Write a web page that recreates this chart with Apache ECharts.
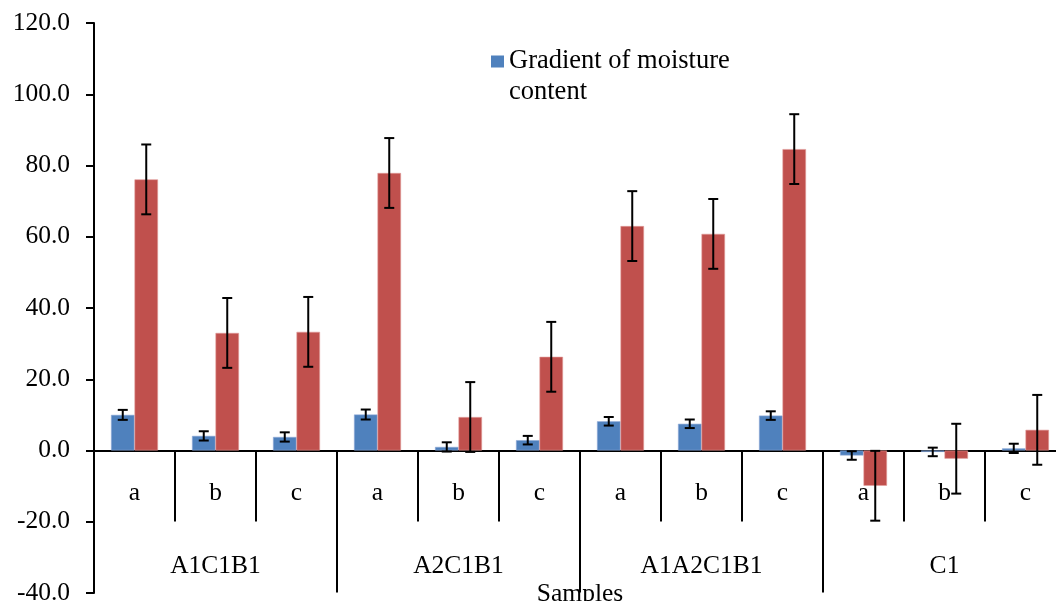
<!DOCTYPE html>
<html>
<head>
<meta charset="utf-8">
<script src="https://cdn.jsdelivr.net/npm/echarts@6/dist/echarts.min.js"></script>
<style>html,body{margin:0;padding:0;background:#fff;}#c{width:1056px;height:601px;}</style>
</head>
<body>
<div id="c"></div>
<script>
var categories = ['a','b','c','a','b','c','a','b','c','a','b','c'];
var groups = ['A1C1B1','A2C1B1','A1A2C1B1','C1'];
var yTicks = [-40,-20,0,20,40,60,80,100,120];
var blueMeans = [10.0, 4.1, 3.8, 10.1, 1.0, 2.9, 8.2, 7.5, 9.8, -1.4, -0.4, 0.6];
var blueErr   = [1.4, 1.3, 1.3, 1.4, 1.3, 1.2, 1.2, 1.2, 1.2, 1.2, 1.2, 1.3];
var redMeans  = [76.1, 33.0, 33.3, 77.9, 9.4, 26.3, 63.0, 60.8, 84.6, -9.9, -2.3, 5.8];
var redErr    = [9.8, 9.8, 9.8, 9.8, 9.8, 9.8, 9.8, 9.8, 9.8, 9.8, 9.8, 9.8];

var FONT = "'Liberation Serif','Times New Roman',serif";
var GAP = 0.42;
var GRID_TOP = 23, GRID_H = 570;
var zeroOffset = -GRID_H * (0 - yTicks[0]) / (yTicks[yTicks.length-1] - yTicks[0]);

function errData(means, errs){
  return means.map(function(m,i){ return [i, m - errs[i], m + errs[i]]; });
}
function makeRender(side){
  return function(params, api){
    var x = api.value(0), lo = api.value(1), hi = api.value(2);
    var band = api.size([1,0])[0];
    var off = side * band * (1 - GAP) / 4;
    var pHi = api.coord([x, hi]), pLo = api.coord([x, lo]);
    var cx = pHi[0] + off, cap = 5;
    var st = {stroke:'#000', lineWidth:2};
    return {type:'group', children:[
      {type:'line', shape:{x1:cx,y1:pHi[1],x2:cx,y2:pLo[1]}, style:st},
      {type:'line', shape:{x1:cx-cap,y1:pHi[1],x2:cx+cap,y2:pHi[1]}, style:st},
      {type:'line', shape:{x1:cx-cap,y1:pLo[1],x2:cx+cap,y2:pLo[1]}, style:st}
    ]};
  };
}

var chart = echarts.init(document.getElementById('c'));
chart.setOption({
  animation:false,
  backgroundColor:'#fff',
  grid:{left:94, top:GRID_TOP, width:972, height:GRID_H, containLabel:false, outerBoundsMode:'none'},
  legend:{
    data:['Gradient of moisture content'],
    left:486, top:10, padding:5,
    itemWidth:13, itemHeight:12, itemGap:8,
    icon:'rect',
    itemStyle:{borderWidth:0},
    formatter:function(){ return '\nGradient of moisture\ncontent'; },
    textStyle:{fontFamily:FONT, fontSize:26.5, color:'#000', lineHeight:31}
  },
  xAxis:[{
    type:'category', data:categories, gridIndex:0, position:'bottom', offset:zeroOffset,
    axisLine:{onZero:false, lineStyle:{color:'#000', width:2}},
    axisTick:{show:true, alignWithLabel:false, length:71, lineStyle:{color:'#000', width:2}},
    axisLabel:{fontFamily:FONT, fontSize:25.5, color:'#000', margin:30, interval:0, hideOverlap:false},
    name:'Samples', nameLocation:'middle', nameGap:131, nameMoveOverlap:false,
    nameTextStyle:{fontFamily:FONT, fontSize:25.5, color:'#000'}
  },{
    type:'category', data:groups, gridIndex:0, position:'bottom', offset:zeroOffset,
    axisLine:{show:false, onZero:false},
    axisTick:{show:true, alignWithLabel:false, length:142, lineStyle:{color:'#000', width:2}},
    axisLabel:{fontFamily:FONT, fontSize:25.5, color:'#000', margin:103, interval:0, hideOverlap:false}
  }],
  yAxis:{
    type:'value', min:yTicks[0], max:yTicks[yTicks.length-1], interval:20,
    axisLine:{show:true, lineStyle:{color:'#000', width:2}},
    axisTick:{show:true, length:8, lineStyle:{color:'#000', width:2}},
    splitLine:{show:false},
    axisLabel:{fontFamily:FONT, fontSize:25.5, color:'#000', margin:24,
      formatter:function(v){ return v.toFixed(1); }}
  },
  series:[{
    name:'Gradient of moisture content', type:'bar', data:blueMeans,
    barCategoryGap:(GAP*100)+'%', barGap:'0%',
    itemStyle:{color:'#4f81bd', borderColor:'#8eaad6', borderWidth:0.6}
  },{
    name:'Gradient of temperature', type:'bar', data:redMeans,
    barCategoryGap:(GAP*100)+'%', barGap:'0%',
    itemStyle:{color:'#c0504d', borderColor:'#e09a98', borderWidth:0.6}
  },{
    type:'custom', renderItem:makeRender(-1), data:errData(blueMeans, blueErr), z:5,
    encode:{x:0, y:[1,2]}
  },{
    type:'custom', renderItem:makeRender(1), data:errData(redMeans, redErr), z:5,
    encode:{x:0, y:[1,2]}
  }]
});
</script>
</body>
</html>
